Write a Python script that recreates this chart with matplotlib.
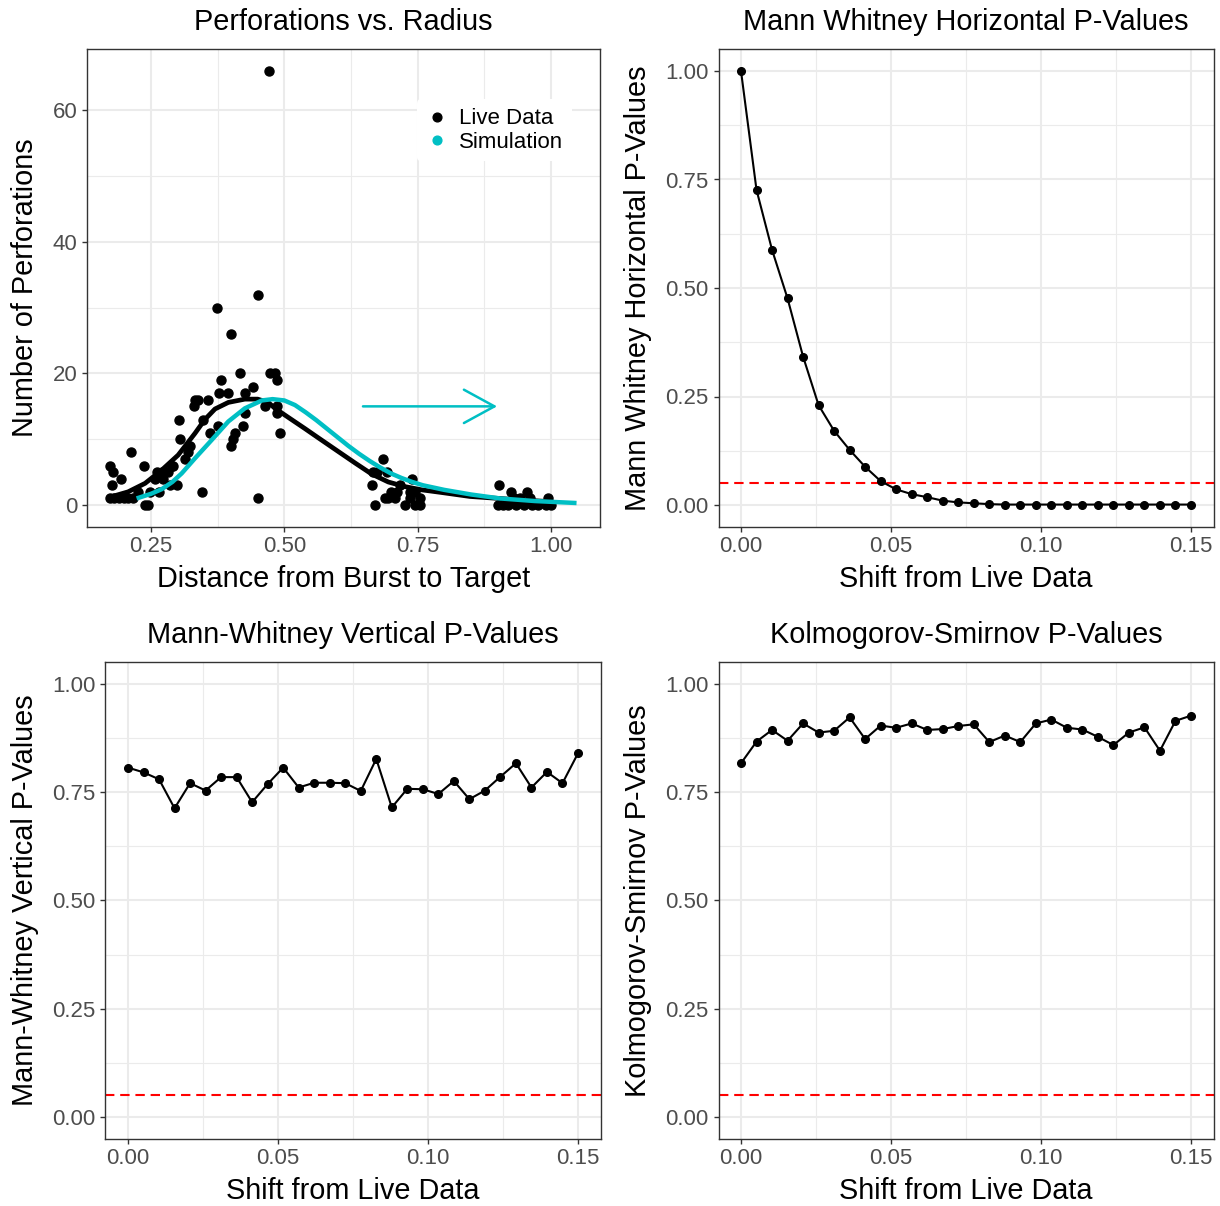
import numpy as np
import matplotlib
matplotlib.use("Agg")
import matplotlib.pyplot as plt
from matplotlib.lines import Line2D

plt.rcParams['font.family'] = ['Liberation Sans', 'DejaVu Sans']

# ---- data -------------------------------------------------------------
live_x = [0.173, 0.178, 0.176, 0.193, 0.212, 0.173, 0.180, 0.190, 0.200, 0.206,
          0.217, 0.226, 0.236, 0.239, 0.245, 0.248, 0.257, 0.261, 0.270, 0.265,
          0.273, 0.282, 0.292, 0.286, 0.298, 0.289, 0.304, 0.303,
          0.314, 0.320, 0.323, 0.331, 0.339, 0.356, 0.348, 0.361, 0.376, 0.377,
          0.394, 0.381, 0.373, 0.400, 0.417, 0.400, 0.404, 0.408, 0.423, 0.426,
          0.426, 0.441, 0.450, 0.451, 0.345, 0.464, 0.473, 0.482, 0.487, 0.486,
          0.486, 0.492, 0.471, 0.333,
          0.667, 0.673, 0.692, 0.686, 0.664, 0.670, 0.689, 0.695, 0.717, 0.711,
          0.739, 0.736, 0.745, 0.708, 0.726, 0.745, 0.755, 0.755, 0.735, 0.700,
          0.903, 0.926, 0.956, 0.942, 0.994, 0.900, 0.910, 0.920, 0.935, 0.950,
          0.965, 0.975, 0.990, 1.000, 0.930, 0.960]
live_y = [6, 5, 3, 4, 8, 1, 1, 1, 1, 1,
          1, 2, 6, 0, 0, 2, 4, 5, 5, 2,
          4, 5, 6, 3, 3, 6, 10, 13,
          7, 8, 9, 15, 16, 16, 13, 11, 12, 17,
          17, 19, 30, 26, 20, 9, 10, 11, 12, 14,
          17, 18, 32, 1, 2, 15, 20, 20, 19, 15,
          14, 11, 66, 16,
          5, 5, 5, 7, 3, 0, 1, 1, 3, 2,
          4, 2, 2, 1, 0, 0, 1, 0, 1, 2,
          3, 2, 2, 1, 1, 0, 0, 0, 0, 0,
          0, 0, 0, 0, 1, 1]

live_fit_x = [0.173, 0.207, 0.239, 0.270, 0.301, 0.3325, 0.351, 0.370, 0.395, 0.426,
              0.450, 0.470, 0.4825, 0.507, 0.539, 0.564, 0.600, 0.6325, 0.664, 0.695,
              0.726, 0.758, 0.795, 0.848, 0.920, 1.000]
live_fit_y = [1.2, 2.0, 3.3, 5.3, 7.6, 10.9, 13.0, 14.6, 15.6, 16.1,
              16.1, 15.6, 14.7, 13.35, 11.6, 10.2, 8.2, 6.4, 4.7, 3.5,
              2.8, 2.3, 1.9, 1.3, 0.9, 0.5]

sim_fit_x = [0.223, 0.250, 0.270, 0.290, 0.3075, 0.3325, 0.364, 0.395, 0.426, 0.458,
             0.478, 0.500, 0.520, 0.540, 0.560, 0.580, 0.600, 0.620, 0.640, 0.660,
             0.680, 0.700, 0.720, 0.740, 0.760, 0.800, 0.850, 0.904, 0.970, 1.048]
sim_fit_y = [1.0, 1.7, 2.4, 3.5, 4.8, 7.1, 9.9, 12.7, 14.7, 15.9,
             16.1, 15.9, 15.2, 14.1, 12.9, 11.6, 10.3, 9.0, 7.8, 6.7,
             5.7, 4.8, 4.1, 3.5, 3.0, 2.3, 1.6, 1.0, 0.6, 0.3]

shift = np.linspace(0, 0.15, 30)

mw_horizontal = [1.000, 0.726, 0.588, 0.476, 0.342, 0.230, 0.171, 0.127, 0.088, 0.055,
                 0.036, 0.025, 0.018, 0.010, 0.006, 0.004, 0.002, 0.001, 0.001, 0.001,
                 0.001, 0.001, 0.001, 0.001, 0.001, 0.001, 0.001, 0.001, 0.001, 0.001]

mw_vertical = [0.807, 0.796, 0.780, 0.713, 0.771, 0.754, 0.785, 0.785, 0.727, 0.769,
               0.807, 0.761, 0.772, 0.772, 0.771, 0.753, 0.827, 0.715, 0.758, 0.757,
               0.746, 0.776, 0.734, 0.754, 0.786, 0.817, 0.761, 0.797, 0.771, 0.840]

ks_values = [0.817, 0.867, 0.894, 0.869, 0.909, 0.888, 0.892, 0.923, 0.873, 0.904,
             0.899, 0.909, 0.894, 0.896, 0.903, 0.907, 0.866, 0.881, 0.866, 0.909,
             0.918, 0.899, 0.895, 0.878, 0.859, 0.888, 0.900, 0.846, 0.915, 0.927]

alpha_level = 0.05
arrow_y = 15
arrow_from, arrow_to = 0.6475, 0.899

CYAN = '#00BFC4'
GRID = '#EBEBEB'
DARK = '#333333'
TICKTXT = '#4D4D4D'
TITLE_SIZE = 20.8
TICK_SIZE = 16


def style_axes(ax, xmajor, xminor, ymajor, yminor, xfmt, yfmt):
    ax.set_xticks(xmajor)
    ax.set_xticks(xminor, minor=True)
    ax.set_yticks(ymajor)
    ax.set_yticks(yminor, minor=True)
    ax.set_xticklabels([xfmt.format(v) for v in xmajor])
    ax.set_yticklabels([yfmt.format(v) for v in ymajor])
    ax.grid(True, which='major', color=GRID, lw=1.5, zorder=0)
    ax.grid(True, which='minor', color=GRID, lw=0.8, zorder=0)
    ax.set_axisbelow(True)
    ax.tick_params(which='major', length=3.5, width=1, color=DARK,
                   labelsize=TICK_SIZE, labelcolor=TICKTXT, pad=3.5)
    ax.tick_params(which='minor', length=0)
    for sp in ax.spines.values():
        sp.set_color(DARK)
        sp.set_linewidth(1.0)


def set_labels(ax, title, xlabel, ylabel, ylab_x, xlab_y, title_y):
    ax.set_title(title, fontsize=TITLE_SIZE, y=title_y, pad=0, va='center')
    ax.set_xlabel(xlabel, fontsize=TITLE_SIZE, va='center')
    ax.set_ylabel(ylabel, fontsize=TITLE_SIZE, va='center')
    ax.xaxis.set_label_coords(0.5, xlab_y)
    ax.yaxis.set_label_coords(ylab_x, 0.5)


def pvalue_panel(ax, values):
    ax.axhline(alpha_level, color='red', lw=1.5, ls=(0, (4.5, 2.8)), zorder=2)
    ax.plot(shift, values, color='black', lw=1.5, marker='o', ms=5.5, zorder=3)
    ax.set_xlim(-0.0075, 0.1575)
    ax.set_ylim(-0.05, 1.05)
    style_axes(ax, [0, 0.05, 0.10, 0.15], [0.025, 0.075, 0.125],
               [0, 0.25, 0.5, 0.75, 1.0], [0.125, 0.375, 0.625, 0.875],
               '{:.2f}', '{:.2f}')


fig = plt.figure(figsize=(12.2, 12.06), dpi=100)
W, H = 1220.0, 1206.0

ax1 = fig.add_axes([87 / W, 1 - 526.7 / H, 513 / W, 477.4 / H])
ax2 = fig.add_axes([718.5 / W, 1 - 526.7 / H, 495 / W, 477.4 / H])
ax3 = fig.add_axes([105.5 / W, 1 - 1138.6 / H, 495 / W, 476.2 / H])
ax4 = fig.add_axes([718.5 / W, 1 - 1138.6 / H, 495 / W, 476.2 / H])

# ---- perforations vs radius ------------------------------------------
ax1.plot(live_x, live_y, 'o', color='black', ms=6.5, zorder=3)
ax1.plot(live_fit_x, live_fit_y, color='black', lw=3.4, zorder=4,
         solid_capstyle='butt', solid_joinstyle='round')
ax1.plot(sim_fit_x, sim_fit_y, color=CYAN, lw=3.2, zorder=5,
         solid_capstyle='butt', solid_joinstyle='round')
ax1.annotate('', xy=(arrow_to, arrow_y), xytext=(arrow_from, arrow_y),
             arrowprops=dict(arrowstyle='->,head_length=2.2,head_width=1.2',
                             color=CYAN, lw=1.8, shrinkA=0, shrinkB=0,
                             mutation_scale=10))
ax1.set_xlim(0.13, 1.092)
ax1.set_ylim(-3.3, 69.3)
style_axes(ax1, [0.25, 0.5, 0.75, 1.0], [0.375, 0.625, 0.875],
           [0, 20, 40, 60], [10, 30, 50], '{:.2f}', '{:d}')

handles = [Line2D([], [], ls='none', marker='o', color='black', ms=6.3),
           Line2D([], [], ls='none', marker='o', color=CYAN, ms=6.3)]
leg = ax1.legend(handles, ['Live Data', 'Simulation'], loc='upper left',
                 bbox_to_anchor=(0.643, 0.895), frameon=True, fontsize=TICK_SIZE,
                 handlelength=1.0, handletextpad=0.5, labelspacing=0.1,
                 borderpad=0.4, borderaxespad=0)
leg.get_frame().set_facecolor('white')
leg.get_frame().set_edgecolor('none')
leg.get_frame().set_alpha(1)

set_labels(ax1, 'Perforations vs. Radius', 'Distance from Burst to Target',
           'Number of Perforations', (25 - 87) / 513, -0.1096, 1.057)

# ---- p-value panels --------------------------------------------------
pvalue_panel(ax2, mw_horizontal)
set_labels(ax2, 'Mann Whitney Horizontal P-Values', 'Shift from Live Data',
           'Mann Whitney Horizontal P-Values', -0.1626, -0.1096, 1.057)

pvalue_panel(ax3, mw_vertical)
set_labels(ax3, 'Mann-Whitney Vertical P-Values', 'Shift from Live Data',
           'Mann-Whitney Vertical P-Values', -0.1626, -0.110, 1.057)

pvalue_panel(ax4, ks_values)
set_labels(ax4, 'Kolmogorov-Smirnov P-Values', 'Shift from Live Data',
           'Kolmogorov-Smirnov P-Values', -0.1626, -0.110, 1.057)

fig.savefig('out.png', dpi=100, facecolor='white')
